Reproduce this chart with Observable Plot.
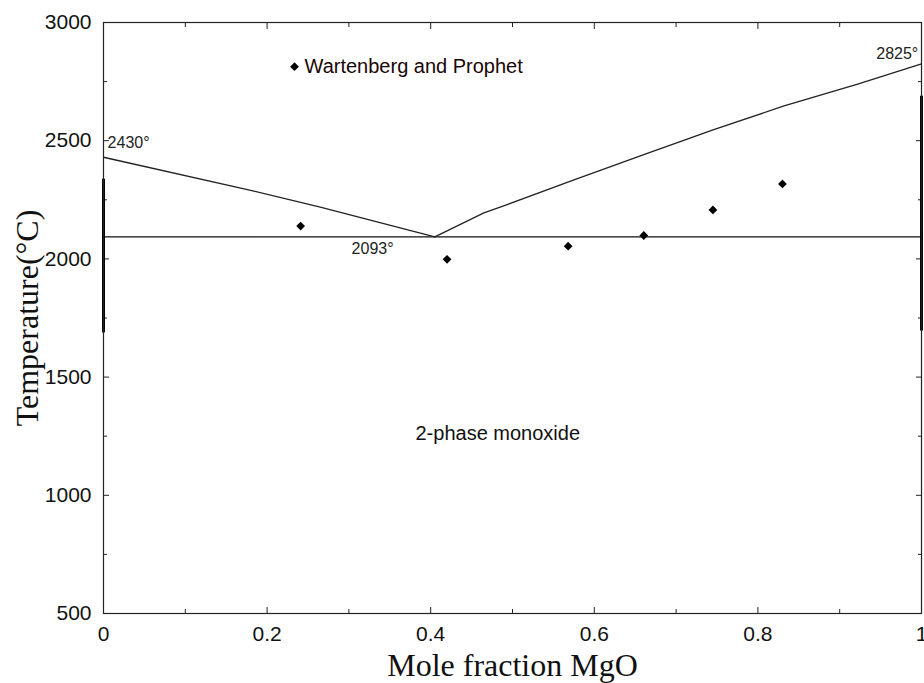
<!DOCTYPE html>
<html>
<head>
<meta charset="utf-8">
<script src="https://cdn.jsdelivr.net/npm/d3@7"></script>
<script src="https://cdn.jsdelivr.net/npm/@observablehq/plot@0.6"></script>
<style>
  html, body { margin: 0; padding: 0; background: #fff; }
  #chart svg { display: block; }
</style>
</head>
<body>
<div id="chart"></div>
<script>
// Liquidus (left branch, FeO side -> eutectic)
const leftX = [0, 0.18, 0.265, 0.405];
const leftT = [2430, 2290, 2219, 2093];
// Liquidus (right branch, eutectic -> MgO)
const rightX = [0.405, 0.465, 0.4935, 0.571, 0.6605, 0.746, 0.832, 0.921, 1.0];
const rightT = [2093, 2195, 2230, 2329, 2441, 2547, 2647, 2738, 2825];
// Eutectic isotherm
const eutX = [0, 1];
const eutT = [2093, 2093];
// Wartenberg and Prophet data
const wpX = [0.241, 0.420, 0.568, 0.6605, 0.745, 0.830];
const wpT = [2139, 1998, 2054, 2099, 2207, 2317];
// Tick values
const xMajor = [0, 0.2, 0.4, 0.6, 0.8, 1];
const xMinor = [0.1, 0.3, 0.5, 0.7, 0.9];
const yMajor = [500, 1000, 1500, 2000, 2500, 3000];
const yMinor = [750, 1250, 1750, 2250, 2750];
// Annotations
const noteText = ["2430°", "2093°", "2825°", "2-phase monoxide"];
const noteX = [0.005, 0.329, 0.996, 0.482];
const noteT = [2489, 2041, 2869, 1260];
// Legend
const legendLabel = ["Wartenberg and Prophet"];
const legendX = [0.2335];
const legendT = [2813];
// Thick edge bars (artefacts of the original figure)
const barX = [0, 1];
const barT1 = [2337, 2688];
const barT2 = [1687, 1695];

const toRows = (xs, ys) => xs.map((x, i) => ({x, t: ys[i]}));
const left = toRows(leftX, leftT);
const right = toRows(rightX, rightT);
const eut = toRows(eutX, eutT);
const wp = toRows(wpX, wpT);
const notes = noteText.map((s, i) => ({s, x: noteX[i], t: noteT[i]}));
const legend = legendLabel.map((s, i) => ({s, x: legendX[i], t: legendT[i]}));
const bars = barX.map((x, i) => ({x, t1: barT1[i], t2: barT2[i]}));

const fmtX = d => String(d);
const tickStyle = {text: null, label: null, stroke: "#222"};

const chart = Plot.plot({
  width: 924,
  height: 683,
  marginLeft: 103,
  marginRight: 3,
  marginTop: 22,
  marginBottom: 70,
  style: {fontFamily: "'Liberation Sans', Arial, sans-serif", color: "#111", background: "#fff"},
  x: {domain: [0, 1], axis: null},
  y: {domain: [500, 3000], axis: null},
  marks: [
    // tick marks (inward)
    Plot.axisX({anchor: "bottom", ticks: xMajor, tickSize: 6, dy: -6, ...tickStyle}),
    Plot.axisX({anchor: "bottom", ticks: xMinor, tickSize: 4, dy: -4, ...tickStyle}),
    Plot.axisX({anchor: "top", ticks: xMajor, tickSize: 6, dy: 6, ...tickStyle}),
    Plot.axisX({anchor: "top", ticks: xMinor, tickSize: 4, dy: 4, ...tickStyle}),
    Plot.axisY({anchor: "left", ticks: yMajor, tickSize: 6, dx: 6, ...tickStyle}),
    Plot.axisY({anchor: "left", ticks: yMinor, tickSize: 4, dx: 4, ...tickStyle}),
    Plot.axisY({anchor: "right", ticks: yMajor, tickSize: 6, dx: -6, ...tickStyle}),
    Plot.axisY({anchor: "right", ticks: yMinor, tickSize: 4, dx: -4, ...tickStyle}),
    // tick labels
    Plot.axisX({anchor: "bottom", ticks: xMajor, tickSize: 0, tickPadding: 13, tickFormat: fmtX, fontSize: 21, label: null, fill: "#111"}),
    Plot.axisY({anchor: "left", ticks: yMajor, tickSize: 0, tickPadding: 12, tickFormat: d => String(d), fontSize: 21, label: null, fill: "#111"}),
    // edge bars
    Plot.ruleX(bars, {x: "x", y1: "t1", y2: "t2", stroke: "#000", strokeWidth: 3}),
    // frame
    Plot.frame({stroke: "#222", strokeWidth: 1.2}),
    // phase boundaries
    Plot.line(eut, {x: "x", y: "t", stroke: "#111", strokeWidth: 1.4}),
    Plot.line(left, {x: "x", y: "t", stroke: "#222", strokeWidth: 1.3}),
    Plot.line(right, {x: "x", y: "t", stroke: "#222", strokeWidth: 1.3}),
    // data
    Plot.dot(wp, {x: "x", y: "t", symbol: "square", r: 3.5, rotate: 45, fill: "#000", stroke: "none"}),
    // legend
    Plot.dot(legend, {x: "x", y: "t", symbol: "square", r: 3.5, rotate: 45, fill: "#000", stroke: "none"}),
    Plot.text(legend, {x: "x", y: "t", text: "s", dx: 10, textAnchor: "start", fontSize: 20, fill: "#1a0505"}),
    // annotations
    Plot.text(notes.slice(0, 1), {x: "x", y: "t", text: "s", textAnchor: "start", fontSize: 16, fill: "#222"}),
    Plot.text(notes.slice(1, 2), {x: "x", y: "t", text: "s", textAnchor: "middle", fontSize: 16, fill: "#222"}),
    Plot.text(notes.slice(2, 3), {x: "x", y: "t", text: "s", textAnchor: "end", fontSize: 16, fill: "#222"}),
    Plot.text(notes.slice(3, 4), {x: "x", y: "t", text: "s", textAnchor: "middle", fontSize: 20, fill: "#111"}),
    // axis titles
    Plot.text(["Mole fraction MgO"], {text: d => d, frameAnchor: "bottom", textAnchor: "middle", lineAnchor: "bottom", dy: 62, fontSize: 32, fontFamily: "'Liberation Serif', 'Times New Roman', serif", fill: "#111"}),
    Plot.text(["Temperature(°C)"], {text: d => d, frameAnchor: "left", textAnchor: "middle", lineAnchor: "middle", dx: -76, rotate: -90, fontSize: 32, fontFamily: "'Liberation Serif', 'Times New Roman', serif", fill: "#111"})
  ]
});
document.getElementById("chart").appendChild(chart);
</script>
</body>
</html>
